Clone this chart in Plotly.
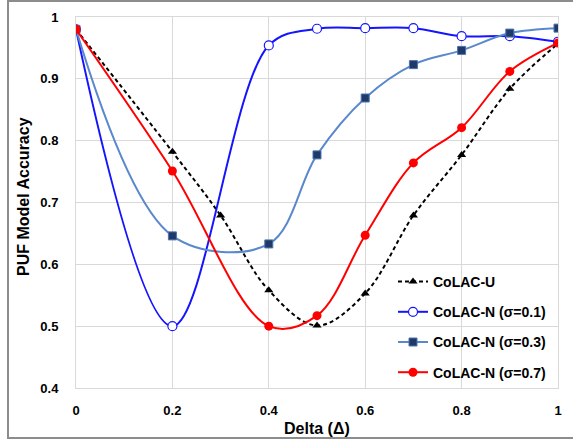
import plotly.graph_objects as go

delta_u = [0, 0.2, 0.3, 0.4, 0.5, 0.6, 0.7, 0.8, 0.9, 1.0]
acc_u = [0.98, 0.782, 0.679, 0.558, 0.501, 0.553, 0.679, 0.777, 0.884, 0.957]

delta_n = [0, 0.2, 0.4, 0.5, 0.6, 0.7, 0.8, 0.9, 1.0]
acc_n01 = [0.98, 0.50, 0.954, 0.981, 0.982, 0.982, 0.969, 0.969, 0.960]
acc_n03 = [0.98, 0.646, 0.633, 0.777, 0.869, 0.923, 0.946, 0.974, 0.982]
acc_n07 = [0.98, 0.751, 0.50, 0.517, 0.647, 0.764, 0.821, 0.912, 0.958]

names = ["CoLAC-U", "CoLAC-N (σ=0.1)", "CoLAC-N (σ=0.3)", "CoLAC-N (σ=0.7)"]

x_ticks = [0, 0.2, 0.4, 0.6, 0.8, 1]
x_tick_text = ["0", "0.2", "0.4", "0.6", "0.8", "1"]
y_ticks = [0.4, 0.5, 0.6, 0.7, 0.8, 0.9, 1.0]
y_tick_text = ["0.4", "0.5", "0.6", "0.7", "0.8", "0.9", "1"]

FONT = "Liberation Sans"

fig = go.Figure()
fig.add_trace(go.Scatter(
    x=delta_u, y=acc_u, name=names[0], mode="lines+markers", legendgroup="a",
    line=dict(color="black", width=2, dash="4px,3px", shape="spline", smoothing=1),
    marker=dict(symbol="triangle-up", size=8, color="black")))
fig.add_trace(go.Scatter(
    x=delta_n, y=acc_n01, name=names[1], mode="lines+markers", legendgroup="b",
    line=dict(color="#1414ff", width=2, shape="spline", smoothing=1),
    marker=dict(symbol="circle", size=9, color="white", line=dict(color="#1414ff", width=1.2))))
fig.add_trace(go.Scatter(
    x=delta_n, y=acc_n03, name=names[2], mode="lines+markers", legendgroup="c",
    line=dict(color="#5a88cc", width=2, shape="spline", smoothing=1),
    marker=dict(symbol="square", size=8, color="#1f3a68", line=dict(color="#4a72b0", width=1))))
fig.add_trace(go.Scatter(
    x=delta_n, y=acc_n07, name=names[3], mode="lines+markers", legendgroup="d",
    line=dict(color="#ff0000", width=2, shape="spline", smoothing=1),
    marker=dict(symbol="circle", size=9, color="#ff0000")))

grid = "#d9d9d9"
fig.update_xaxes(range=[0, 1], tickvals=x_ticks, ticktext=x_tick_text,
                 showgrid=True, gridcolor=grid, gridwidth=1, zeroline=False,
                 showline=True, linecolor=grid, linewidth=1, mirror=True,
                 ticks="", ticklabelstandoff=10,
                 tickfont=dict(family=FONT, size=13, color="black", weight="bold"))
fig.update_yaxes(range=[0.4, 1.0], tickvals=y_ticks, ticktext=y_tick_text,
                 showgrid=True, gridcolor=grid, gridwidth=1, zeroline=False,
                 showline=True, linecolor=grid, linewidth=1, mirror=True,
                 ticks="", ticklabelstandoff=14,
                 tickfont=dict(family=FONT, size=13, color="black", weight="bold"))

fig.add_annotation(text="Delta (Δ)", xref="paper", yref="paper",
                   x=(317 - 76) / 482, y=(388 - 428) / 371, showarrow=False,
                   xanchor="center", yanchor="middle",
                   font=dict(family=FONT, size=16, color="black", weight="bold"))
fig.add_annotation(text="PUF Model Accuracy", xref="paper", yref="paper",
                   x=(23 - 76) / 482, y=(388 - 197) / 371, showarrow=False, textangle=-90,
                   xanchor="center", yanchor="middle",
                   font=dict(family=FONT, size=16, color="black", weight="bold"))

# outer frame
fig.add_shape(type="rect", xref="paper", yref="paper",
              x0=(8 - 76) / 482, x1=(590 - 76) / 482,
              y0=(388 - 438) / 371, y1=(388 - 1) / 371,
              line=dict(color="#8c8c8c", width=2), fillcolor="rgba(0,0,0,0)", layer="above")

fig.update_layout(
    width=573, height=444,
    margin=dict(l=76, r=15, t=17, b=56, autoexpand=False),
    paper_bgcolor="white", plot_bgcolor="white",
    legend=dict(x=(393 - 76) / 482, y=(388 - 266) / 371, xanchor="left", yanchor="top",
                bgcolor="rgba(0,0,0,0)", tracegroupgap=9,
                font=dict(family=FONT, size=14, color="black", weight="bold")),
)

fig.write_html("out.html", config={"displayModeBar": False},
               post_script="document.body.style.margin='0';document.body.style.overflow='hidden';")
